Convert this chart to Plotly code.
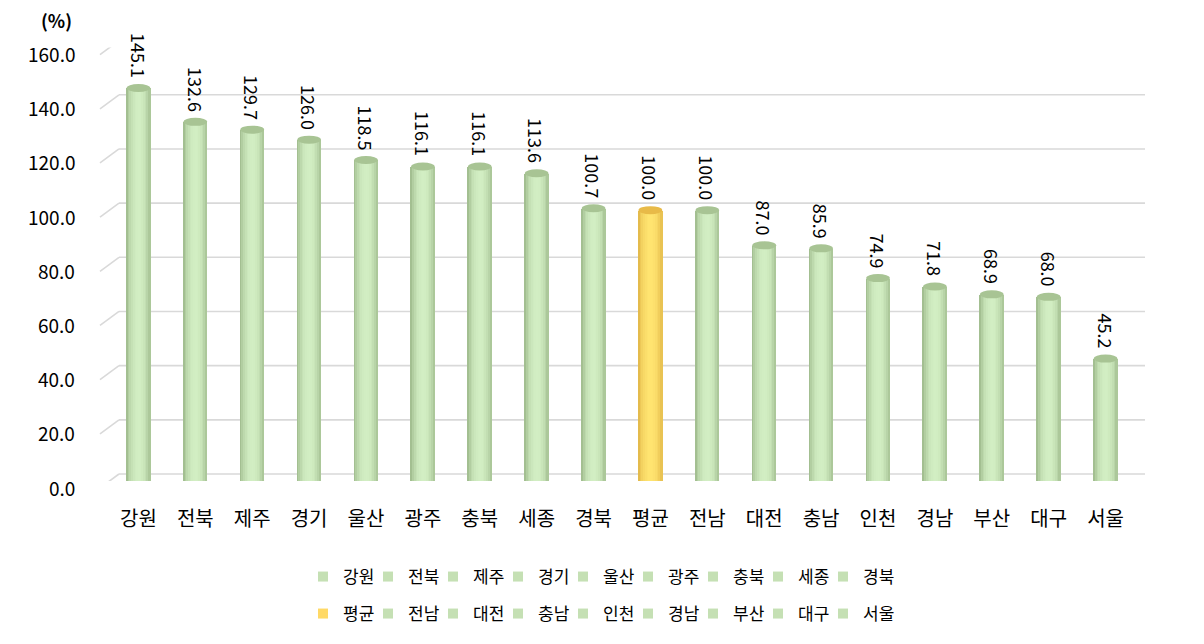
import plotly.graph_objects as go

categories = ["강원", "전북", "제주", "경기", "울산", "광주", "충북", "세종", "경북",
              "평균", "전남", "대전", "충남", "인천", "경남", "부산", "대구", "서울"]
values = [145.1, 132.6, 129.7, 126.0, 118.5, 116.1, 116.1, 113.6, 100.7,
          100.0, 100.0, 87.0, 85.9, 74.9, 71.8, 68.9, 68.0, 45.2]
highlight = "평균"
yticks = [0, 20, 40, 60, 80, 100, 120, 140, 160]

W, H = 1204, 644
FONT = "Noto Sans CJK KR"

GREEN_DARK, GREEN_LIGHT, GREEN_TOP, GREEN_LEG = (134, 162, 114), (210, 238, 195), (168, 196, 148), "#C5E0B4"
YEL_DARK, YEL_LIGHT, YEL_TOP, YEL_LEG = (212, 162, 54), (255, 228, 112), (232, 186, 72), "#FFD966"


def mix(a, b, f):
    return "rgb(%d,%d,%d)" % tuple(round(a[i] + (b[i] - a[i]) * f) for i in range(3))


def shade(t):
    d = (t - 0.52) / 0.56
    return max(0.0, 1 - d * d) ** 0.7


bar_w = 0.42
K = 14
fig = go.Figure()
is_hi = [c == highlight for c in categories]
for k in range(K):
    t = (k + 0.5) / K
    f = shade(t)
    cols = [mix(YEL_DARK, YEL_LIGHT, f) if h else mix(GREEN_DARK, GREEN_LIGHT, f) for h in is_hi]
    fig.add_trace(go.Bar(
        x=categories, y=values, width=bar_w / K * 1.08, offset=-bar_w / 2 + k * bar_w / K,
        marker=dict(color=cols, line=dict(width=0)), showlegend=False, hoverinfo="skip"))

# legend entries (two rows; a blank spacer closes each row so the last label is not clipped)
for i, c in enumerate(categories):
    leg = "legend" if i < 9 else "legend2"
    fig.add_trace(go.Scatter(
        x=[None], y=[None], mode="markers", name=c,
        marker=dict(symbol="square", size=10, color=YEL_LEG if c == highlight else GREEN_LEG),
        legend=leg))
    if i in (8, 17):
        fig.add_trace(go.Scatter(x=[None], y=[None], mode="markers", name=" ",
                                 marker=dict(color="rgba(0,0,0,0)", size=1), legend=leg,
                                 hoverinfo="skip"))

shapes = []
# gridlines: back wall + diagonal to front
x_front, x_back0, x_back1 = 100 / W, 119 / W, 1145 / W
for v in yticks:
    shapes.append(dict(type="line", xref="paper", yref="y", ysizemode="pixel", yanchor=v,
                       x0=x_back0, x1=x_back1, y0=7, y1=7, layer="below",
                       line=dict(color="#D9D9D9", width=1.6)))
    shapes.append(dict(type="line", xref="paper", yref="y", ysizemode="pixel", yanchor=v,
                       x0=x_front, x1=x_back0, y0=-7, y1=7, layer="below",
                       line=dict(color="#D9D9D9", width=1.6)))
# cylinder caps
for i, (c, v) in enumerate(zip(categories, values)):
    h = c == highlight
    top = mix(YEL_TOP, YEL_TOP, 0) if h else mix(GREEN_TOP, GREEN_TOP, 0)
    bot = mix(YEL_DARK, YEL_LIGHT, 0.55) if h else mix(GREEN_DARK, GREEN_LIGHT, 0.55)
    shapes.append(dict(type="circle", xref="x", yref="y", ysizemode="pixel", yanchor=0,
                       x0=i - bar_w / 2, x1=i + bar_w / 2, y0=-4, y1=4, layer="below",
                       fillcolor=bot, line=dict(width=0)))
    shapes.append(dict(type="circle", xref="x", yref="y", ysizemode="pixel", yanchor=v,
                       x0=i - bar_w / 2, x1=i + bar_w / 2, y0=-4, y1=4, layer="above",
                       fillcolor=top, line=dict(width=0)))

annotations = []
for c, v in zip(categories, values):
    annotations.append(dict(x=c, y=v, xref="x", yref="y", text=f"{v:.1f}", textangle=90,
                            showarrow=False, yanchor="bottom", xanchor="center", yshift=8,
                            font=dict(family=FONT, size=18, color="#000000")))
for v in yticks:
    annotations.append(dict(x=77 / W, y=v, xref="paper", yref="y", text=f"{v:.1f}",
                            showarrow=False, xanchor="right", yanchor="middle", yshift=-6,
                            font=dict(family=FONT, size=19, color="#000000")))
annotations.append(dict(x=56 / W, y=1 - 20 / H, xref="paper", yref="paper", text="<b>(%)</b>",
                        showarrow=False, xanchor="center", yanchor="middle",
                        font=dict(family=FONT, size=18, color="#000000")))

leg_common = dict(orientation="h", xanchor="left", x=303 / W, yanchor="middle",
                  font=dict(family=FONT, size=17, color="#000000"), itemwidth=30,
                  entrywidth=20, entrywidthmode="pixels",
                  bgcolor="rgba(0,0,0,0)", tracegroupgap=0)

fig.update_layout(
    width=W, height=H, margin=dict(l=0, r=0, t=0, b=0),
    paper_bgcolor="white", plot_bgcolor="white",
    barmode="overlay", bargap=0,
    font=dict(family=FONT, color="#000000"),
    xaxis=dict(domain=[110 / W, 1134 / W], range=[-0.5, len(categories) - 0.5],
               type="category", showgrid=False, zeroline=False, showline=False, ticks="",
               tickfont=dict(family=FONT, size=20, color="#000000"), ticklabelstandoff=24,
               fixedrange=True),
    yaxis=dict(domain=[(H - 481) / H, (H - 47.6) / H], range=[0, 160], showgrid=False,
               zeroline=False, showline=False, showticklabels=False, ticks="", fixedrange=True),
    legend=dict(y=(H - 577) / H, **leg_common),
    legend2=dict(y=(H - 614) / H, **leg_common),
    shapes=shapes, annotations=annotations, showlegend=True,
)

fig.write_html("out.html")
